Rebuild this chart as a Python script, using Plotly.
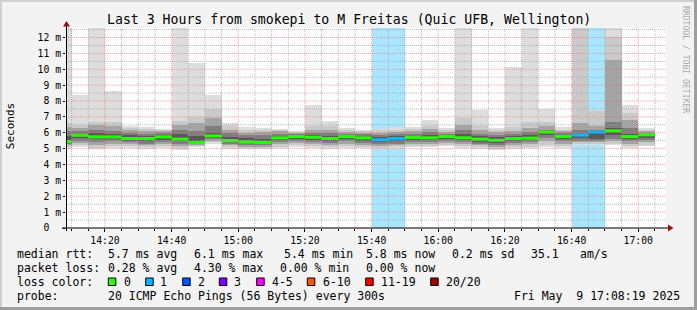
import plotly.graph_objects as go
import pandas as pd

# ---------------- data ----------------
DAY = "2025-05-09 "
interval_end = ["14:10", "14:15", "14:20", "14:25", "14:30", "14:35", "14:40", "14:45", "14:50", "14:55",
                "15:00", "15:05", "15:10", "15:15", "15:20", "15:25", "15:30", "15:35", "15:40", "15:45",
                "15:50", "15:55", "16:00", "16:05", "16:10", "16:15", "16:20", "16:25", "16:30", "16:35",
                "16:40", "16:45", "16:50", "16:55", "17:00", "17:05"]

# sorted ping values (ms) per 5-minute step: max, 19th, 17th, 15th, 13th ... 8th, 6th, 4th, 2nd, min
rtt_max = [13.0, 8.38, 13.0, 8.65, 6.45, 6.39, 6.26, 13.0, 10.42, 8.38, 6.6, 6.39, 6.33, 6.26, 6.12, 7.75,
           6.75, 6.33, 6.2, 6.25, 6.35, 6.39, 6.81, 6.3, 13.0, 7.44, 6.3, 10.12, 13.0, 7.5, 6.35, 13.0,
           7.44, 13.0, 7.75, 6.33]
rtt_p19 = [6.6, 6.5, 6.7, 6.7, 6.3, 6.25, 6.2, 6.75, 6.98, 7.52, 6.4, 6.2, 6.2, 6.2, 6.05, 6.4,
           6.4, 6.2, 6.1, 6.15, 6.2, 6.25, 6.45, 6.2, 6.94, 6.4, 6.15, 6.35, 6.7, 6.7, 6.2, 13.0,
           7.4, 12.05, 7.25, 6.2]
rtt_p17 = [6.35, 6.3, 6.5, 6.4, 6.15, 6.1, 6.1, 6.5, 6.6, 6.9, 6.2, 6.0, 6.05, 6.1, 5.98, 6.2,
           6.2, 6.05, 6.0, 6.0, 6.05, 6.08, 6.25, 6.05, 6.5, 6.15, 6.02, 6.1, 6.3, 6.4, 6.1, 6.6,
           6.4, 10.6, 6.8, 6.1]
rtt_p15 = [6.1, 6.1, 6.2, 6.1, 6.0, 5.95, 6.0, 6.15, 6.1, 6.4, 6.0, 5.85, 5.85, 5.95, 5.92, 6.0,
           6.0, 5.95, 5.9, 5.85, 5.9, 5.95, 6.05, 5.95, 6.2, 5.95, 5.88, 5.95, 6.05, 6.2, 6.0, 6.2,
           6.15, 6.7, 6.3, 6.0]
rtt_p13 = [5.8, 5.95, 6.0, 5.95, 5.85, 5.8, 5.85, 5.9, 5.8, 6.0, 5.75, 5.65, 5.6, 5.8, 5.85, 5.85,
           5.82, 5.85, 5.8, 5.72, 5.78, 5.82, 5.85, 5.85, 5.9, 5.8, 5.72, 5.8, 5.85, 6.1, 5.88, 5.95,
           6.08, 6.3, 5.95, 5.93]
rtt_median = [5.45, 5.84, 5.74, 5.74, 5.64, 5.64, 5.74, 5.6, 5.38, 5.8, 5.51, 5.43, 5.39, 5.68, 5.76, 5.72,
              5.64, 5.76, 5.68, 5.56, 5.64, 5.7, 5.68, 5.76, 5.68, 5.6, 5.53, 5.64, 5.66, 6.04, 5.76, 5.85,
              6.04, 6.12, 5.76, 5.87]
rtt_p8 = [5.38, 5.7, 5.6, 5.6, 5.5, 5.45, 5.55, 5.45, 5.3, 5.7, 5.4, 5.33, 5.3, 5.55, 5.6, 5.55,
          5.5, 5.6, 5.5, 5.42, 5.45, 5.55, 5.52, 5.62, 5.55, 5.42, 5.35, 5.5, 5.52, 5.85, 5.6, 5.65,
          5.6, 5.85, 5.6, 5.7]
rtt_p6 = [5.3, 5.5, 5.4, 5.45, 5.4, 5.3, 5.4, 5.3, 5.27, 5.6, 5.3, 5.22, 5.2, 5.42, 5.48, 5.42,
          5.38, 5.45, 5.38, 5.3, 5.32, 5.42, 5.4, 5.5, 5.42, 5.32, 5.22, 5.38, 5.4, 5.65, 5.45, 5.5,
          5.5, 5.6, 5.45, 5.55]
rtt_p4 = [5.2, 5.35, 5.25, 5.3, 5.28, 5.2, 5.28, 5.15, 5.22, 5.5, 5.2, 5.13, 5.1, 5.28, 5.33, 5.3,
          5.25, 5.3, 5.25, 5.15, 5.2, 5.3, 5.3, 5.38, 5.3, 5.2, 5.1, 5.25, 5.28, 5.45, 5.3, 5.4,
          5.4, 5.45, 5.3, 5.4]
rtt_p2 = [5.1, 5.2, 5.05, 5.15, 5.15, 5.08, 5.15, 5.02, 5.18, 5.42, 5.1, 5.05, 5.02, 5.12, 5.2, 5.15,
          5.1, 5.15, 5.12, 5.02, 5.08, 5.18, 5.18, 5.25, 5.15, 5.08, 5.0, 5.1, 5.12, 5.25, 5.15, 5.3,
          5.3, 5.3, 5.15, 5.25]
rtt_min = [5.0, 5.08, 4.95, 5.05, 5.05, 5.0, 5.05, 4.93, 5.12, 5.3, 5.0, 4.98, 4.95, 5.02, 5.12, 5.05,
           5.0, 5.05, 5.02, 4.95, 4.98, 5.1, 5.08, 5.15, 5.05, 5.0, 4.93, 5.0, 5.02, 5.1, 5.05, 5.25,
           5.25, 5.2, 5.05, 5.15]
loss_pings = [0, 0, 0, 0, 0, 0, 0, 0, 0, 0, 0, 0, 0, 0, 0, 0, 0, 0, 0, 1,
              1, 0, 0, 0, 0, 0, 0, 0, 0, 0, 0, 1, 1, 0, 0, 0]

legend_labels = ["0", "1", "2", "3", "4-5", "6-10", "11-19", "20/20"]
legend_colors = ["#26ff00", "#00b8ff", "#0059ff", "#7e00ff", "#ff00ff", "#ff5500", "#ff0000", "#a10000"]

y_tick_vals = [0, 1, 2, 3, 4, 5, 6, 7, 8, 9, 10, 11, 12]
y_tick_text = ["0\u00a0\u00a0", "1 m", "2 m", "3 m", "4 m", "5 m", "6 m", "7 m", "8 m", "9 m", "10 m", "11 m", "12 m"]
x_tick_labels = ["14:20", "14:40", "15:00", "15:20", "15:40", "16:00", "16:20", "16:40", "17:00"]

title_text = "Last 3 Hours from smokepi to M Freitas (Quic UFB, Wellington)"
stat_rows = [
    (254, [(16, "median rtt:"), (107.3, "5.7 ms avg"), (192.7, "6.1 ms max"), (282.7, "5.4 ms min"),
           (365, "5.8 ms now"), (451, "0.2 ms sd"), (530, "35.1"), (579.3, "am/s")]),
    (268, [(16, "packet loss:"), (107.3, "0.28 % avg"), (192.7, "4.30 % max"), (279.3, "0.00 % min"),
           (365, "0.00 % now")]),
    (282, [(16, "loss color:")]),
    (296, [(16, "probe:"), (107.3, "20 ICMP Echo Pings (56 Bytes) every 300s"),
           (513.3, "Fri May  9 17:08:19 2025")]),
]
legend_box_x = [108.3, 145.7, 182.7, 219.3, 256.7, 307.3, 365.7, 430.7]
legend_text_x = [122.7, 159.3, 196.7, 233.3, 270.7, 321.7, 380, 445]

# ---------------- geometry ----------------
W, H = 697, 310
L, R, T, B = 66, 666, 28, 228
Y_MAX = 12.6
X_START = pd.Timestamp(DAY + "14:08:19")
X_END = pd.Timestamp(DAY + "17:08:19")
STEP = pd.Timedelta(minutes=5)
FONT = "DejaVu Sans Mono"


def px(x):
    return (x - L) / (R - L)


def py(y):
    return (B - y) / (B - T)


ends = pd.to_datetime([DAY + t for t in interval_end])
centers = ends - STEP / 2
starts = ends - STEP
width_ms = STEP.total_seconds() * 1000


def loss_index(n):
    if n <= 3:
        return n
    if n <= 5:
        return 4
    if n <= 10:
        return 5
    if n <= 19:
        return 6
    return 7


def hex_rgba(h, a):
    h = h.lstrip("#")
    return "rgba(%d,%d,%d,%.2f)" % (int(h[0:2], 16), int(h[2:4], 16), int(h[4:6], 16), a)


fig = go.Figure()

# loss background
loss_x = [c for c, n in zip(centers, loss_pings) if n > 0]
loss_c = [hex_rgba(legend_colors[loss_index(n)], 0.34) for n in loss_pings if n > 0]
fig.add_trace(go.Bar(x=loss_x, y=[Y_MAX] * len(loss_x), base=[0] * len(loss_x), width=width_ms,
                     marker=dict(color=loss_c, line=dict(width=0)), hoverinfo="skip"))

# smoke layers
layers = [(rtt_min, rtt_max, "#dddddd"), (rtt_p2, rtt_p19, "#cacaca"), (rtt_p4, rtt_p17, "#a4a4a4"),
          (rtt_p6, rtt_p15, "#7e7e7e"), (rtt_p8, rtt_p13, "#585858")]
for lo, hi, col in layers:
    fig.add_trace(go.Bar(x=centers, y=[h - l for l, h in zip(lo, hi)], base=lo, width=width_ms,
                         marker=dict(color=col, line=dict(width=0)), hoverinfo="skip"))

# median lines coloured by loss
for li, col in enumerate(legend_colors):
    xs, ys = [], []
    for s, e, m, n in zip(starts, ends, rtt_median, loss_pings):
        if loss_index(n) == li:
            xs += [s, e, None]
            ys += [m, m, None]
    if xs:
        fig.add_trace(go.Scatter(x=xs, y=ys, mode="lines", line=dict(color=col, width=3),
                                 hoverinfo="skip"))

shapes = []
# grid (drawn over the data like rrdtool)
dot = "1px,1px"
minor_col = "rgba(160,160,160,0.75)"
major_col = "rgba(255,80,80,0.55)"
for i in range(int(Y_MAX * 2) + 1):
    v = i / 2
    if v > Y_MAX:
        break
    is_major = v in y_tick_vals
    shapes.append(dict(type="line", xref="x", yref="y", x0=X_START, x1=X_END, y0=v, y1=v, layer="above",
                       line=dict(color=major_col if is_major else minor_col, width=1, dash=dot)))
major_times = pd.to_datetime([DAY + t for t in x_tick_labels])
minor_times = pd.date_range(DAY + "14:10", DAY + "17:05", freq="5min")
for t in minor_times:
    is_major = t in major_times
    shapes.append(dict(type="line", xref="x", yref="y", x0=t, x1=t, y0=0, y1=Y_MAX, layer="above",
                       line=dict(color=major_col if is_major else minor_col, width=1, dash=dot)))

# axis lines and arrows
shapes.append(dict(type="line", xref="paper", yref="paper", x0=px(62), x1=px(669), y0=py(228), y1=py(228),
                   layer="above", line=dict(color="black", width=1)))
shapes.append(dict(type="line", xref="paper", yref="paper", x0=px(66.5), x1=px(66.5), y0=py(231), y1=py(25),
                   layer="above", line=dict(color="black", width=1)))
shapes.append(dict(type="path", xref="paper", yref="paper", layer="above",
                   path="M %f %f L %f %f L %f %f Z" % (px(668), py(224.5), px(673.5), py(228), px(668), py(231.5)),
                   fillcolor="#9a1010", line=dict(width=0)))
shapes.append(dict(type="path", xref="paper", yref="paper", layer="above",
                   path="M %f %f L %f %f L %f %f Z" % (px(63), py(26.5), px(66.5), py(21), px(70), py(26.5)),
                   fillcolor="#9a1010", line=dict(width=0)))

# frame
shapes.append(dict(type="rect", xref="paper", yref="paper", x0=px(0), x1=px(697), y0=py(0), y1=py(2),
                   fillcolor="#cfcfcf", line=dict(width=0), layer="below"))
shapes.append(dict(type="rect", xref="paper", yref="paper", x0=px(0), x1=px(2), y0=py(0), y1=py(310),
                   fillcolor="#cfcfcf", line=dict(width=0), layer="below"))
shapes.append(dict(type="rect", xref="paper", yref="paper", x0=px(0), x1=px(697), y0=py(307), y1=py(310),
                   fillcolor="#9e9e9e", line=dict(width=0), layer="below"))
shapes.append(dict(type="rect", xref="paper", yref="paper", x0=px(694), x1=px(697), y0=py(0), y1=py(310),
                   fillcolor="#9e9e9e", line=dict(width=0), layer="below"))

# legend colour boxes
for bx, col in zip(legend_box_x, legend_colors):
    shapes.append(dict(type="rect", xref="paper", yref="paper", x0=px(bx), x1=px(bx + 7.5),
                       y0=py(278), y1=py(285.5), fillcolor=col, line=dict(color="black", width=1)))

annotations = []


def text(x, y, s, size=11.5, anchor="left", color="#000000", angle=0):
    annotations.append(dict(x=px(x), y=py(y), xref="paper", yref="paper", text=s, showarrow=False,
                            xanchor=anchor, yanchor="middle", textangle=angle, borderpad=0,
                            font=dict(family=FONT, size=size, color=color)))


text(348.5, 19.3, title_text.replace(" ", "\u00a0"), size=13.2, anchor="center")
text(10.7, 126.5, "Seconds", size=11, anchor="center", angle=-90)
text(686, 59, "RRDTOOL\u00a0/\u00a0TOBI\u00a0OETIKER", size=8.1, anchor="center", color="#aaaaaa", angle=90)
for yy, items in stat_rows:
    for xx, s in items:
        text(xx, yy, s.replace(" ", "\u00a0"), size=11.5)
for tx, lab in zip(legend_text_x, legend_labels):
    text(tx, 282, lab, size=11.5)

fig.update_layout(
    width=W, height=H,
    margin=dict(l=L, r=W - R, t=T, b=H - B, pad=0),
    paper_bgcolor="#f3f3f3", plot_bgcolor="#ffffff",
    barmode="overlay", bargap=0, showlegend=False,
    shapes=shapes, annotations=annotations,
    xaxis=dict(type="date", range=[X_START, X_END], showgrid=False, zeroline=False, showline=False,
               tickmode="array", tickvals=major_times, ticktext=x_tick_labels,
               ticks="outside", ticklen=3, tickcolor="#000000", tickwidth=1,
               minor=dict(tickmode="array", tickvals=minor_times, ticks="outside", ticklen=2,
                          tickcolor="#000000", showgrid=False),
               tickfont=dict(family=FONT, size=9.75, color="#000000"), fixedrange=True),
    yaxis=dict(range=[0, Y_MAX], showgrid=False, zeroline=False, showline=False,
               tickmode="array", tickvals=y_tick_vals, ticktext=y_tick_text,
               ticks="outside", ticklen=2, tickcolor="#000000", tickwidth=1,
               tickfont=dict(family=FONT, size=9.75, color="#000000"), fixedrange=True),
)

fig.write_html("out.html")
